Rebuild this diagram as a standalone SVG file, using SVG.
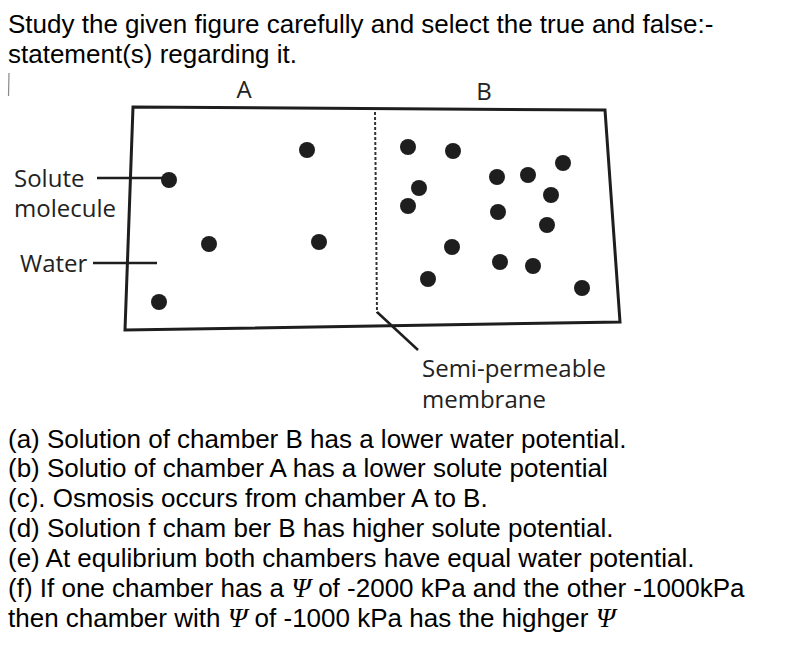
<svg xmlns="http://www.w3.org/2000/svg" width="800" height="652" viewBox="0 0 800 652">
<style>
.q{font-family:"Liberation Sans",Arial,sans-serif;font-size:26px;fill:#000}
.psi{font-family:"Liberation Serif","Times New Roman",serif;font-style:italic;font-size:28px}
.lbl{font-family:"Open Sans","Noto Sans",sans-serif;font-size:24px;fill:#222}
.dot{fill:#1e1e1e}
.ln{stroke:#1e1e1e;stroke-width:2.5;fill:none}
</style>
<rect width="800" height="652" fill="#fff"/>
<text class="q" x="8" y="33">Study the given figure carefully and select the true and false:-</text>
<text class="q" x="8" y="63">statement(s) regarding it.</text>
<line x1="9" y1="73" x2="8.5" y2="96" stroke="#888" stroke-width="1.2"/>

<g id="container">
<polygon points="133,107 605,110 620,322 125,330" fill="none" stroke="#1e1e1e" stroke-width="3"/>
</g>
<g id="membrane">
<line x1="375" y1="112" x2="377" y2="313" stroke="#333" stroke-width="2" stroke-dasharray="3,2"/>
</g>
<g id="label-A"><text class="lbl" x="244" y="98" text-anchor="middle" font-size="21">A</text></g>
<g id="label-B"><text class="lbl" x="484" y="100" text-anchor="middle" font-size="21">B</text></g>

<g id="chamber-A">
<circle class="dot" cx="307" cy="150" r="8"/>
<circle class="dot" cx="169" cy="180" r="8"/>
<circle class="dot" cx="209" cy="244" r="8"/>
<circle class="dot" cx="319" cy="242" r="8"/>
<circle class="dot" cx="159" cy="302" r="8"/>
</g>
<g id="chamber-B">
<circle class="dot" cx="408" cy="147" r="8"/>
<circle class="dot" cx="453" cy="151" r="8"/>
<circle class="dot" cx="563" cy="163" r="8"/>
<circle class="dot" cx="497" cy="177" r="8"/>
<circle class="dot" cx="528" cy="175" r="8"/>
<circle class="dot" cx="419" cy="188" r="8"/>
<circle class="dot" cx="551" cy="195" r="8"/>
<circle class="dot" cx="408" cy="206" r="8"/>
<circle class="dot" cx="498" cy="212" r="8"/>
<circle class="dot" cx="547" cy="225" r="8"/>
<circle class="dot" cx="452" cy="247" r="8"/>
<circle class="dot" cx="500" cy="262" r="8"/>
<circle class="dot" cx="533" cy="266" r="8"/>
<circle class="dot" cx="428" cy="279" r="8"/>
<circle class="dot" cx="582" cy="288" r="8"/>
</g>

<g id="label-solute"><text class="lbl" x="14" y="187">Solute</text><text class="lbl" x="14" y="217">molecule</text></g>
<g id="label-water"><text class="lbl" x="20" y="272" font-size="23">Water</text></g>
<g id="label-membrane"><text class="lbl" x="422" y="377">Semi-permeable</text><text class="lbl" x="422" y="408">membrane</text></g>

<g id="connectors">
<line class="ln" x1="97" y1="178" x2="164" y2="178"/>
<line class="ln" x1="93" y1="263" x2="157" y2="263"/>
<line class="ln" x1="377" y1="312" x2="418" y2="350"/>
</g>

<text class="q" x="8" y="447.5">(a) Solution of chamber B has a lower water potential.</text>
<text class="q" x="8" y="477.4">(b) Solutio of chamber A has a lower solute potential</text>
<text class="q" x="8" y="507.3">(c). Osmosis occurs from chamber A to B.</text>
<text class="q" x="8" y="537.2">(d) Solution f cham ber B has higher solute potential.</text>
<text class="q" x="8" y="567.1">(e) At equlibrium both chambers have equal water potential.</text>
<text class="q" x="8" y="597">(f) If one chamber has a <tspan class="psi">Ψ</tspan> of -2000 kPa and the other -1000kPa</text>
<text class="q" x="8" y="626.9">then chamber with <tspan class="psi">Ψ</tspan> of -1000 kPa has the highger <tspan class="psi">Ψ</tspan></text>
</svg>
